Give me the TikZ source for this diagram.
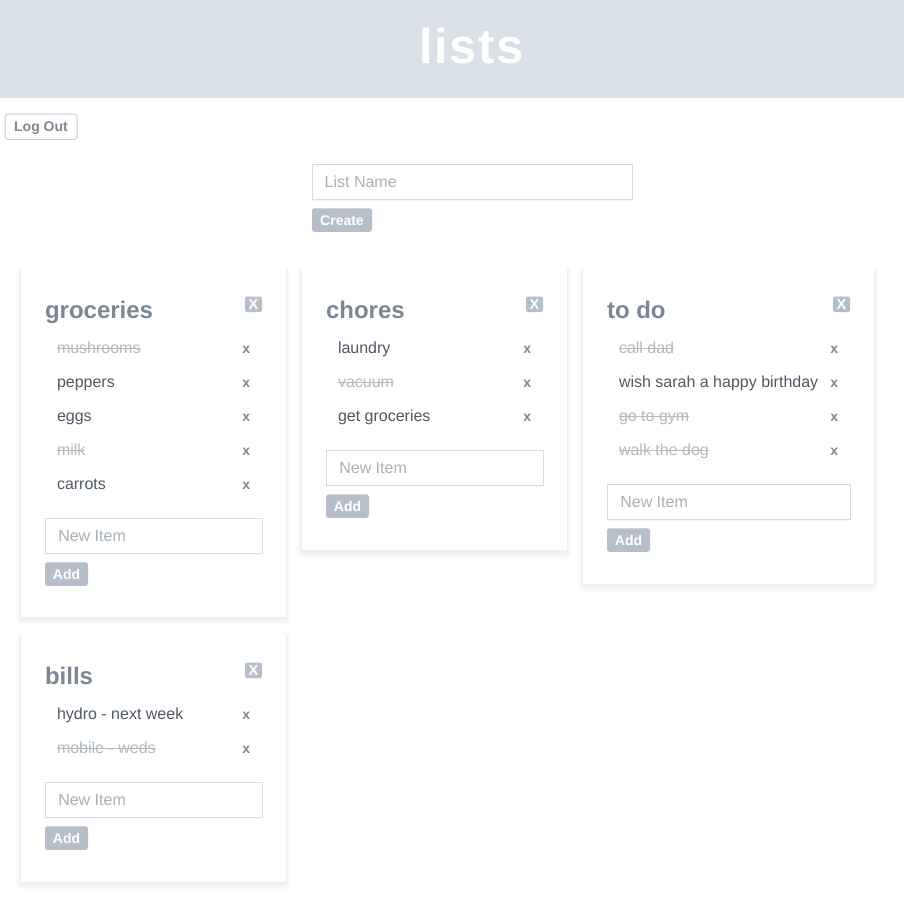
\documentclass[tikz,border=0pt]{standalone}
\usepackage{fontspec}
\setmainfont{Liberation Sans}
\definecolor{hdr}{RGB}{218,224,231}
\definecolor{btn}{RGB}{182,191,201}
\definecolor{titlec}{RGB}{123,135,148}
\definecolor{itemc}{RGB}{78,89,101}
\definecolor{offc}{RGB}{178,186,194}
\definecolor{delc}{RGB}{125,136,148}
\definecolor{inbord}{RGB}{214,220,227}
\definecolor{phc}{RGB}{168,176,184}
\tikzset{
  every node/.style={inner sep=0pt, outer sep=0pt},
  cardbg/.style={fill=white, anchor=north west},
  titletxt/.style={anchor=base west, font=\fontsize{24}{28}\selectfont\bfseries, text=titlec},
  itemon/.style={anchor=base west, font=\fontsize{16}{19}\selectfont, text=itemc},
  itemoff/.style={anchor=base west, font=\fontsize{16}{19}\selectfont, text=offc},
  delx/.style={anchor=base, font=\fontsize{14}{17}\selectfont\bfseries, text=delc},
  xbtn/.style={fill=btn, rounded corners=2pt, anchor=north west, minimum width=17pt, minimum height=15.5pt,
    font=\fontsize{14.5}{16}\selectfont\bfseries, text=white, text height=10.4pt, text depth=0pt},
  fillbtn/.style={fill=btn, rounded corners=2.5pt, anchor=north west, minimum height=23.5pt,
    font=\fontsize{14}{17}\selectfont\bfseries, text=white, text height=10pt, text depth=0pt},
  inputbox/.style={draw=inbord, line width=1pt, fill=white, anchor=north west, minimum height=35pt},
  phtxt/.style={anchor=base west, font=\fontsize{16}{19}\selectfont, text=phc},
  strikeln/.style={draw=offc, line width=1pt},
}
\newcommand\cardshadow[4]{% L T R B
  \foreach \k in {1,...,8} {
    \fill[black, opacity=0.0065, rounded corners=\k*0.6pt] (#1-\k*0.55, #2-\k*0.25+1) rectangle (#3+\k*0.55, #4+\k*0.9+1);
  }
}
\newcommand\inshadow[3]{% L B W
  \fill[black, opacity=0.04] (#1+1, #2-2) rectangle (#1+#3-1, #2+1.5);
}
\newcommand\itm[6]{% name, x text, baseline, x del, text, style
  \node[#6] (#1) at (#2,#3) {#5};
  \node[delx] (#1-x) at (#4,#3) {x};
}
\newcommand\strk[1]{\draw[strikeln] ([yshift=5pt]#1.base west) -- ([yshift=5pt]#1.base east);}
\begin{document}
\begin{tikzpicture}[x=1pt, y=-1pt]
\useasboundingbox (0,0) rectangle (904,907);
\fill[white] (0,0) rectangle (904,907);
% header
\fill[hdr] (0,0) rectangle (904,98);
\node[anchor=base, font=\fontsize{49}{56}\selectfont\bfseries, text=white] (hdrtitle) at (471.5,63.5) {l\kern1.6pt i\kern1.6pt s\kern1.6pt t\kern1.6pt s};
% log out
\node[draw=inbord!85!gray, line width=1pt, rounded corners=3pt, anchor=north west, minimum width=72pt, minimum height=25.5pt,
  font=\fontsize{14}{17}\selectfont\bfseries, text=delc, text height=10pt, text depth=0pt] (logout) at (5,114) {Log Out};
% list name
\inshadow{312}{199.5}{320}
\node[inputbox, minimum width=320pt] (listname) at (312,164.3) {};
\node[phtxt] (listnameph) at (324.7,187.3) {List Name};
\node[fillbtn, minimum width=60pt] (create) at (312,208.3) {Create};

% ---------- groceries ----------
\cardshadow{21}{268}{286}{617}
\node[cardbg, minimum width=265pt, minimum height=349pt] (gcard) at (21,268) {};
\node[titletxt] (gtitle) at (45,318) {groceries};
\node[xbtn] (gclose) at (245,296.5) {X};
\itm{g1}{57}{353}{246.3}{mushrooms}{itemoff}\strk{g1}
\itm{g2}{57}{387}{246.3}{peppers}{itemon}
\itm{g3}{57}{421}{246.3}{eggs}{itemon}
\itm{g4}{57}{455}{246.3}{milk}{itemoff}\strk{g4}
\itm{g5}{57}{489}{246.3}{carrots}{itemon}
\inshadow{45}{553.3}{217}
\node[inputbox, minimum width=217pt] (gin) at (45,518.3) {};
\node[phtxt] (gph) at (58.3,541.5) {New Item};
\node[fillbtn, minimum width=43pt] (gadd) at (45,562.3) {Add};

% ---------- chores ----------
\cardshadow{302}{268}{567}{550}
\node[cardbg, minimum width=265pt, minimum height=282pt] (ccard) at (302,268) {};
\node[titletxt] (ctitle) at (326,318) {chores};
\node[xbtn] (cclose) at (526,296.5) {X};
\itm{c1}{338}{353}{527.3}{laundry}{itemon}
\itm{c2}{338}{387}{527.3}{vacuum}{itemoff}\strk{c2}
\itm{c3}{338}{421}{527.3}{get groceries}{itemon}
\inshadow{326}{485.3}{217}
\node[inputbox, minimum width=217pt] (cin) at (326,450.3) {};
\node[phtxt] (cph) at (339.3,473.5) {New Item};
\node[fillbtn, minimum width=43pt] (cadd) at (326,494.3) {Add};

% ---------- to do ----------
\cardshadow{583}{268}{874}{584}
\node[cardbg, minimum width=291pt, minimum height=316pt] (tcard) at (583,268) {};
\node[titletxt] (ttitle) at (607,318) {to do};
\node[xbtn] (tclose) at (833,296.5) {X};
\itm{t1}{619}{353}{834.3}{call dad}{itemoff}\strk{t1}
\itm{t2}{619}{387}{834.3}{wish sarah a happy birthday}{itemon}
\itm{t3}{619}{421}{834.3}{go to gym}{itemoff}\strk{t3}
\itm{t4}{619}{455}{834.3}{walk the dog}{itemoff}\strk{t4}
\inshadow{607}{519.3}{243}
\node[inputbox, minimum width=243pt] (tin) at (607,484.3) {};
\node[phtxt] (tph) at (620.3,507.5) {New Item};
\node[fillbtn, minimum width=43pt] (tadd) at (607,528.3) {Add};

% ---------- bills ----------
\cardshadow{21}{634}{286}{882}
\node[cardbg, minimum width=265pt, minimum height=248pt] (bcard) at (21,634) {};
\node[titletxt] (btitle) at (45,684) {bills};
\node[xbtn] (bclose) at (245,662.5) {X};
\itm{b1}{57}{719}{246.3}{hydro - next week}{itemon}
\itm{b2}{57}{753}{246.3}{mobile - weds}{itemoff}\strk{b2}
\inshadow{45}{817.3}{217}
\node[inputbox, minimum width=217pt] (bin) at (45,782.3) {};
\node[phtxt] (bph) at (58.3,805.5) {New Item};
\node[fillbtn, minimum width=43pt] (badd) at (45,826.3) {Add};
\end{tikzpicture}
\end{document}
